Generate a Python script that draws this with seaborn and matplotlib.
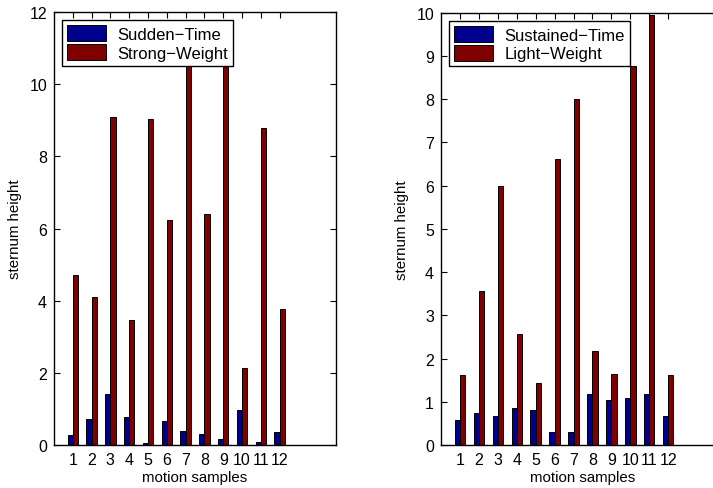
import pandas as pd
import matplotlib
matplotlib.use("Agg")
import matplotlib.pyplot as plt
import seaborn as sns

# values
samples = list(range(1, 13))
sudden_time = [0.27, 0.71, 1.40, 0.79, 0.05, 0.67, 0.38, 0.31, 0.16, 0.96, 0.09, 0.36]
strong_weight = [4.70, 4.11, 9.08, 3.47, 9.03, 6.23, 10.9, 6.41, 10.49, 2.13, 8.78, 3.78]
sustained_time = [0.59, 0.75, 0.68, 0.85, 0.82, 0.31, 0.31, 1.17, 1.05, 1.08, 1.17, 0.66]
light_weight = [1.61, 3.57, 5.98, 2.56, 1.44, 6.61, 8.00, 2.18, 1.65, 8.76, 9.95, 1.63]

blue = "#00008F"
red = "#800000"

sns.set_style("ticks")
plt.rcParams['font.family'] = ['Liberation Sans', 'DejaVu Sans']
plt.rcParams['text.color'] = 'black'
plt.rcParams['axes.labelcolor'] = 'black'
plt.rcParams['xtick.color'] = 'black'
plt.rcParams['ytick.color'] = 'black'
plt.rcParams['axes.edgecolor'] = 'black'


def make_df(a, b, name_a, name_b):
    return pd.DataFrame({
        'sample': samples * 2,
        'value': a + b,
        'series': [name_a] * len(a) + [name_b] * len(b),
    })


def draw(ax, df, names, ymax, yticks):
    sns.barplot(data=df, x='sample', y='value', hue='series', hue_order=names,
                palette=[blue, red], saturation=1, native_scale=True, width=0.55,
                edgecolor='black', linewidth=0.7, errorbar=None, ax=ax)
    ax.set_xlim(0, 15)
    ax.set_ylim(0, ymax)
    ax.set_xticks(samples)
    ax.set_xticklabels([str(s) for s in samples])
    ax.set_yticks(yticks)
    ax.tick_params(direction='in', top=True, right=True, labelsize=11.5,
                   length=4, width=0.8, pad=5)
    for s in ax.spines.values():
        s.set_linewidth(1.0)
    ax.set_xlabel('motion samples', fontsize=10.8, labelpad=2)
    ax.set_ylabel('sternum height', fontsize=10.8, labelpad=5)
    handles, labels = ax.get_legend_handles_labels()
    ax.legend(handles, labels, loc='upper left', fontsize=12, frameon=True,
              fancybox=False, edgecolor='black', framealpha=1,
              handlelength=2.3, handleheight=1.1, borderpad=0.3,
              labelspacing=0.12, handletextpad=0.7, borderaxespad=0.5)
    ax.get_legend().get_frame().set_linewidth(1.0)


fig = plt.figure(figsize=(7.13, 4.89), dpi=100)
ax1 = fig.add_axes([0.0757, 0.0879, 0.3956, 0.8855])
ax2 = fig.add_axes([0.6185, 0.0879, 0.3983, 0.8841])

draw(ax1, make_df(sudden_time, strong_weight, 'Sudden\u2212Time', 'Strong\u2212Weight'),
     ['Sudden\u2212Time', 'Strong\u2212Weight'], 12, [0, 2, 4, 6, 8, 10, 12])
draw(ax2, make_df(sustained_time, light_weight, 'Sustained\u2212Time', 'Light\u2212Weight'),
     ['Sustained\u2212Time', 'Light\u2212Weight'], 10, list(range(0, 11)))

fig.savefig('out.png', dpi=100)
